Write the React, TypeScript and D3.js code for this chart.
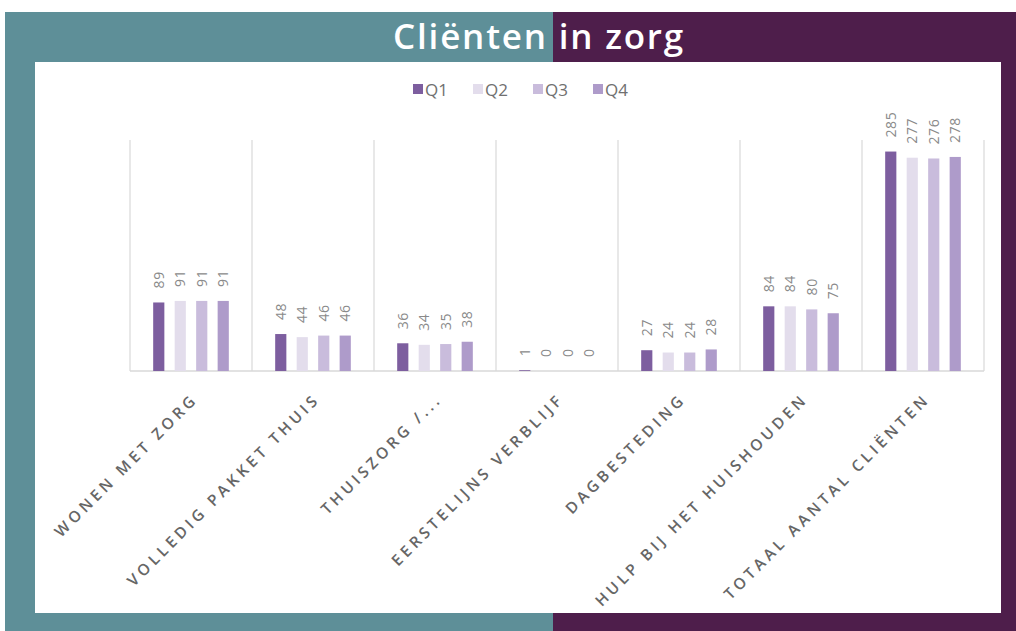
import React from "react";
import * as d3 from "d3";

const categories = [
  "WONEN MET ZORG",
  "VOLLEDIG PAKKET THUIS",
  "THUISZORG /...",
  "EERSTELIJNS VERBLIJF",
  "DAGBESTEDING",
  "HULP BIJ HET HUISHOUDEN",
  "TOTAAL AANTAL CLIËNTEN",
];
const seriesNames = ["Q1", "Q2", "Q3", "Q4"];
const q1 = [89, 48, 36, 1, 27, 84, 285];
const q2 = [91, 44, 34, 0, 24, 84, 277];
const q3 = [91, 46, 35, 0, 24, 80, 276];
const q4 = [91, 46, 38, 0, 28, 75, 278];
const seriesValues = [q1, q2, q3, q4];
const seriesColors = ["#7d5e9f", "#e3ddec", "#c9bcdc", "#ae9bca"];

export default function App() {
  const W = 1016, H = 631;
  const plotL = 130, plotR = 984, plotT = 140, plotB = 371;
  const x0 = d3.scaleBand<string>().domain(categories).range([plotL, plotR]).padding(0);
  const bw = x0.bandwidth();
  const x1 = d3.scaleBand<string>().domain(seriesNames).range([bw * 0.19, bw * 0.81]).paddingInner(0.48).paddingOuter(0);
  const y = d3.scaleLinear().domain([0, 300]).range([plotB, plotT]);
  const font = "'Open Sans', 'DejaVu Sans', sans-serif";
  const legendX = [413, 473, 533, 593];

  return (
    <svg width={W} height={H} style={{ position: "fixed", left: 0, top: 0, display: "block" }}>
      <rect x={0} y={0} width={W} height={H} fill="#ffffff" />
      <rect x={5} y={12} width={548} height={H - 12} fill="#5e8f98" />
      <rect x={553} y={12} width={W - 553} height={H - 12} fill="#4e1e4b" />
      <text x={539} y={49} textAnchor="middle" fill="#ffffff" fontFamily={font} fontWeight={600} fontSize={35} letterSpacing={1.8}>
        Cliënten in zorg
      </text>
      <rect x={35} y={62} width={966} height={551} fill="#ffffff" />

      {/* legend */}
      {seriesNames.map((s, i) => (
        <g key={s}>
          <rect x={legendX[i]} y={84} width={10} height={10} fill={seriesColors[i]} />
          <text x={legendX[i] + 12} y={96} fill="#707070" fontFamily={font} fontSize={17}>{s}</text>
        </g>
      ))}

      {/* vertical separators */}
      {[...categories.map((c) => x0(c) as number), plotR].map((xv, i) => (
        <line key={i} x1={xv} x2={xv} y1={plotT} y2={plotB} stroke="#d9d9d9" strokeWidth={1.2} />
      ))}
      <line x1={plotL} x2={plotR} y1={plotB} y2={plotB} stroke="#d9d9d9" strokeWidth={1.5} />

      {/* bars */}
      {categories.map((c, ci) => (
        <g key={c} transform={`translate(${x0(c)},0)`}>
          {seriesNames.map((s, si) => {
            const v = seriesValues[si][ci];
            const bx = x1(s) as number;
            const cx = bx + x1.bandwidth() / 2;
            return (
              <g key={s}>
                <rect x={bx} y={y(v)} width={x1.bandwidth()} height={plotB - y(v)} fill={seriesColors[si]} />
                <text
                  transform={`translate(${cx + 5},${y(v) - 14}) rotate(-90)`}
                  fill="#8a8a8a"
                  fontFamily={font}
                  fontSize={14}
                  letterSpacing={0.6}
                >
                  {v}
                </text>
              </g>
            );
          })}
        </g>
      ))}

      {/* category labels */}
      {categories.map((c) => {
        const cx = (x0(c) as number) + bw / 2;
        return (
          <text
            key={c}
            transform={`translate(${cx + 8},${plotB + 29}) rotate(-45)`}
            textAnchor="end"
            fill="#666666"
            fontFamily={font}
            fontWeight={600}
            fontSize={15.5}
            letterSpacing={3.8}
          >
            {c}
          </text>
        );
      })}
    </svg>
  );
}
